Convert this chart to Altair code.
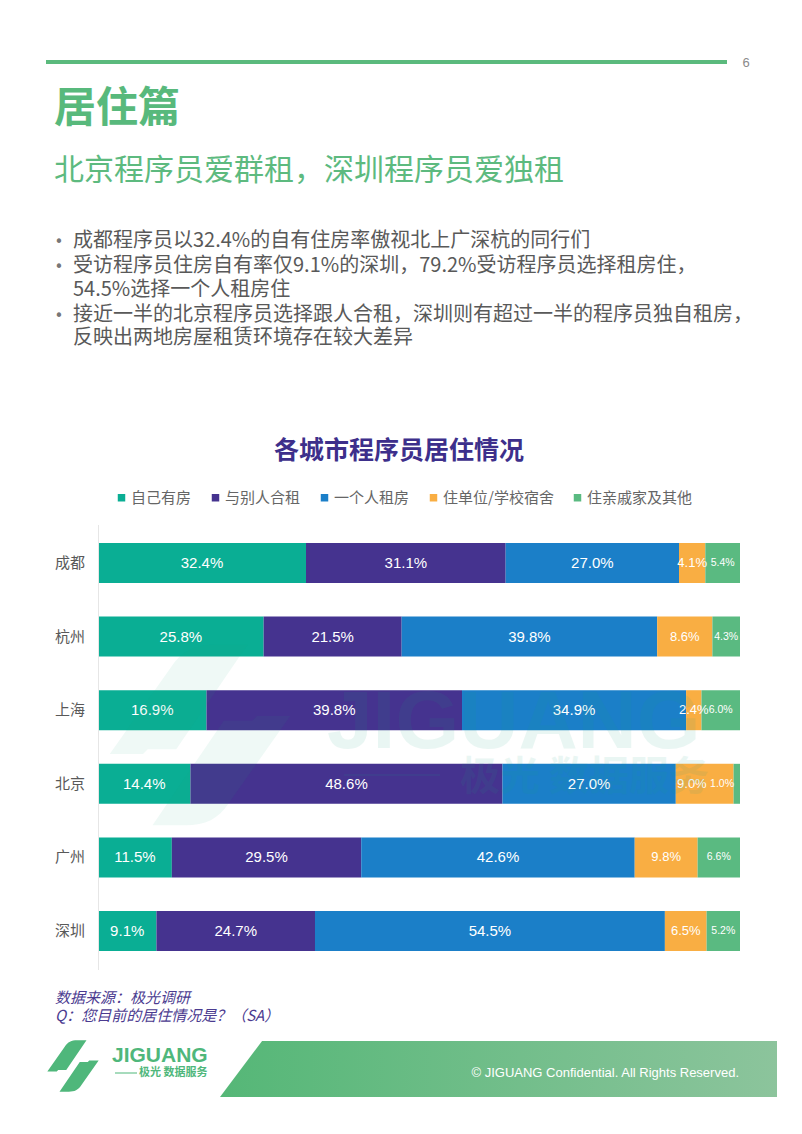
import altair as alt
import pandas as pd

# ---------------- data ----------------
cities = ["成都", "杭州", "上海", "北京", "广州", "深圳"]
categories = ["自己有房", "与别人合租", "一个人租房", "住单位/学校宿舍", "住亲戚家及其他"]
own = [32.4, 25.8, 16.9, 14.4, 11.5, 9.1]
share = [31.1, 21.5, 39.8, 48.6, 29.5, 24.7]
alone = [27.0, 39.8, 34.9, 27.0, 42.6, 54.5]
dorm = [4.1, 8.6, 2.4, 9.0, 9.8, 6.5]
relatives = [5.4, 4.3, 6.0, 1.0, 6.6, 5.2]
colors = ["#0aae94", "#45338f", "#1b7fc8", "#f9ae43", "#5aba81"]

page_no = "6"
page_title = "居住篇"
subtitle = "北京程序员爱群租，深圳程序员爱独租"
bullet_lines = [
    ("•", "成都程序员以32.4%的自有住房率傲视北上广深杭的同行们"),
    ("•", "受访程序员住房自有率仅9.1%的深圳，79.2%受访程序员选择租房住，"),
    ("", "54.5%选择一个人租房住"),
    ("•", "接近一半的北京程序员选择跟人合租，深圳则有超过一半的程序员独自租房，"),
    ("", "反映出两地房屋租赁环境存在较大差异"),
]
chart_title = "各城市程序员居住情况"
source_lines = ["数据来源：极光调研", "Q：您目前的居住情况是？（SA）"]
footer_text = "© JIGUANG Confidential. All Rights Reserved."
brand = "JIGUANG"
brand_sub = "极光 数据服务"
watermark_sub = "极光  数据服务"

series = [own, share, alone, dorm, relatives]

# ---------------- table ----------------
rows = []
for i, c in enumerate(cities):
    vals = [s[i] for s in series]
    cum = 0.0
    for j, v in enumerate(vals):
        x0, x1 = cum, cum + v
        mid = (x0 + x1) / 2
        nxt = vals[j + 1] if j + 1 < len(vals) else None
        if v < 2:
            labx = x0 - 1.8
        elif nxt is not None and nxt < 2:
            labx = mid - 2
        else:
            labx = mid
        rows.append(dict(city=c, cat=categories[j], order=j, value=v,
                         labx=labx, lab=f"{v:.1f}%"))
        cum = x1
df = pd.DataFrame(rows)

CJK = "Noto Sans CJK SC"
NUM = "Liberation Sans, Arial, sans-serif"

X = alt.Scale(domain=[0, 100], range=[90, 732])
Y = alt.Scale(domain=cities, range=[535, 943], paddingInner=0.457, paddingOuter=0)

bars = alt.Chart(df).mark_bar().encode(
    x=alt.X("value:Q", stack="zero", scale=X, axis=None),
    y=alt.Y("city:N", scale=Y, axis=None),
    color=alt.Color(
        "cat:N",
        scale=alt.Scale(domain=categories, range=colors),
        legend=alt.Legend(
            orient="none", legendX=106, legendY=482, direction="horizontal",
            title=None, symbolType="square", symbolSize=56, symbolStrokeWidth=0,
            labelFont=CJK, labelFontSize=15, labelColor="#666666",
            columnPadding=16, labelOffset=2,
        ),
    ),
    order=alt.Order("order:Q", sort="ascending"),
)


def seg_labels(filter_expr, size):
    return alt.Chart(df).transform_filter(filter_expr).mark_text(
        font=NUM, fontSize=size, color="white", baseline="middle", align="center"
    ).encode(
        x=alt.X("labx:Q", scale=X, axis=None),
        y=alt.Y("city:N", scale=Y, axis=None),
        text="lab:N",
    )


lab_main = seg_labels("datum.order <= 2", 15)
lab_orange = seg_labels("datum.order == 3", 13)
lab_green = seg_labels("datum.order == 4", 10.5)

city_labels = alt.Chart(pd.DataFrame({"city": cities})).mark_text(
    font=CJK, fontSize=15, color="#595959", align="right", baseline="middle"
).encode(
    x=alt.value(77),
    y=alt.Y("city:N", scale=Y, axis=None),
    text="city:N",
)

one = pd.DataFrame({"k": [0]})


def txt(s, x, y, size, color, **kw):
    return alt.Chart(pd.DataFrame({"t": [s]})).mark_text(
        fontSize=size, color=color, **kw
    ).encode(x=alt.value(x), y=alt.value(y), text="t:N")


axis_line = alt.Chart(one).mark_rule(color="#e6e6e6", strokeWidth=1).encode(
    x=alt.value(90.5), y=alt.value(517), y2=alt.value(962)
)

header_rule = alt.Chart(one).mark_rule(color="#5bba7d", strokeWidth=4).encode(
    x=alt.value(38), x2=alt.value(719), y=alt.value(54)
)

layers = [header_rule]
layers.append(txt(page_no, 738, 55, 13, "#8a8a8a", font=NUM, align="center", baseline="middle"))
layers.append(txt(page_title, 46, 101, 42, "#58b97c", font=CJK, fontWeight="bold", align="left", baseline="middle"))
layers.append(txt(subtitle, 46, 163, 30, "#5dba7f", font=CJK, align="left", baseline="middle"))

line_y = [233, 258, 282, 307, 330]
for (b, t), yy in zip(bullet_lines, line_y):
    if b:
        layers.append(txt(b, 51, yy + 1, 15, "#777777", font="DejaVu Sans", align="center", baseline="middle"))
    layers.append(txt(t, 65, yy, 20, "#595959", font=CJK, align="left", baseline="middle"))

layers.append(txt(chart_title, 391, 443, 25, "#3d2f8b", font=CJK, fontWeight="bold", align="center", baseline="middle"))

icon_path = ("M -0.95 0.2 L -0.3 -0.72 C -0.2 -0.88 -0.05 -0.95 0.15 -0.95 L 0.5 -0.95 "
             "L -0.25 0.15 L -0.55 0.15 L -0.6 0.2 Z "
             "M 0.95 -0.2 L 0.3 0.72 C 0.2 0.88 0.05 0.95 -0.15 0.95 L -0.5 0.95 "
             "L 0.25 -0.15 L 0.55 -0.15 L 0.6 -0.2 Z")

wm_icon = alt.Chart(one).mark_point(
    shape=icon_path, filled=True, fill="#1aa383", opacity=0.07, strokeWidth=0, size=190 * 190
).encode(x=alt.value(192), y=alt.value(727))

footer_band = alt.Chart(one).mark_point(
    shape="M -1 0.1005 L -0.849 -0.1005 L 1 -0.1005 L 1 0.1005 Z",
    filled=True, opacity=1, strokeWidth=0, size=557 * 557,
    fill=alt.LinearGradient(
        gradient="linear", x1=0, x2=1, y1=0, y2=0,
        stops=[alt.GradientStop(color="#55b777", offset=0),
               alt.GradientStop(color="#8cc49c", offset=1)],
    ),
).encode(x=alt.value(490.5), y=alt.value(1061))

logo_icon = alt.Chart(one).mark_point(
    shape=icon_path, filled=True, fill="#4fb77b", opacity=1, strokeWidth=0, size=54 * 54
).encode(x=alt.value(65), y=alt.value(1058))

logo_line = alt.Chart(one).mark_rule(color="#4fb77b", strokeWidth=1).encode(
    x=alt.value(107), x2=alt.value(129), y=alt.value(1065)
)

layers += [bars, axis_line, city_labels, lab_main, lab_orange, lab_green]

layers.append(txt(brand, 319, 740, 82, "#1aa383", font=NUM, fontWeight="bold",
                  align="left", baseline="alphabetic", opacity=0.09))
layers.append(alt.Chart(one).mark_rule(color="#1aa383", strokeWidth=2, opacity=0.09).encode(
    x=alt.value(336), x2=alt.value(432), y=alt.value(767)))
layers.append(txt(watermark_sub, 452, 770, 40, "#1aa383", font=CJK, fontWeight="bold",
                  align="left", baseline="middle", opacity=0.09))
layers.append(wm_icon)

layers.append(txt(source_lines[0], 47, 990, 15, "#4b3b90", font=CJK, fontStyle="italic", align="left", baseline="middle"))
layers.append(txt(source_lines[1], 47, 1008, 15, "#4b3b90", font=CJK, fontStyle="italic", align="left", baseline="middle"))

layers += [footer_band, logo_icon, logo_line]
layers.append(txt(brand, 104, 1048, 21, "#4fb77b", font=NUM, fontWeight="bold", align="left", baseline="middle"))
layers.append(txt(brand_sub, 131, 1065, 11, "#4fb77b", font=CJK, fontWeight="bold", align="left", baseline="middle"))
layers.append(txt(footer_text, 731, 1065, 13, "white", font="Liberation Sans, Arial, sans-serif", align="right", baseline="middle"))

chart = alt.layer(*layers).properties(
    width=786, height=1112, padding=0,
    autosize=alt.AutoSizeParams(type="none"),
).configure_view(stroke=None)

chart.save("out.html", embed_options={"renderer": "svg", "actions": False})
